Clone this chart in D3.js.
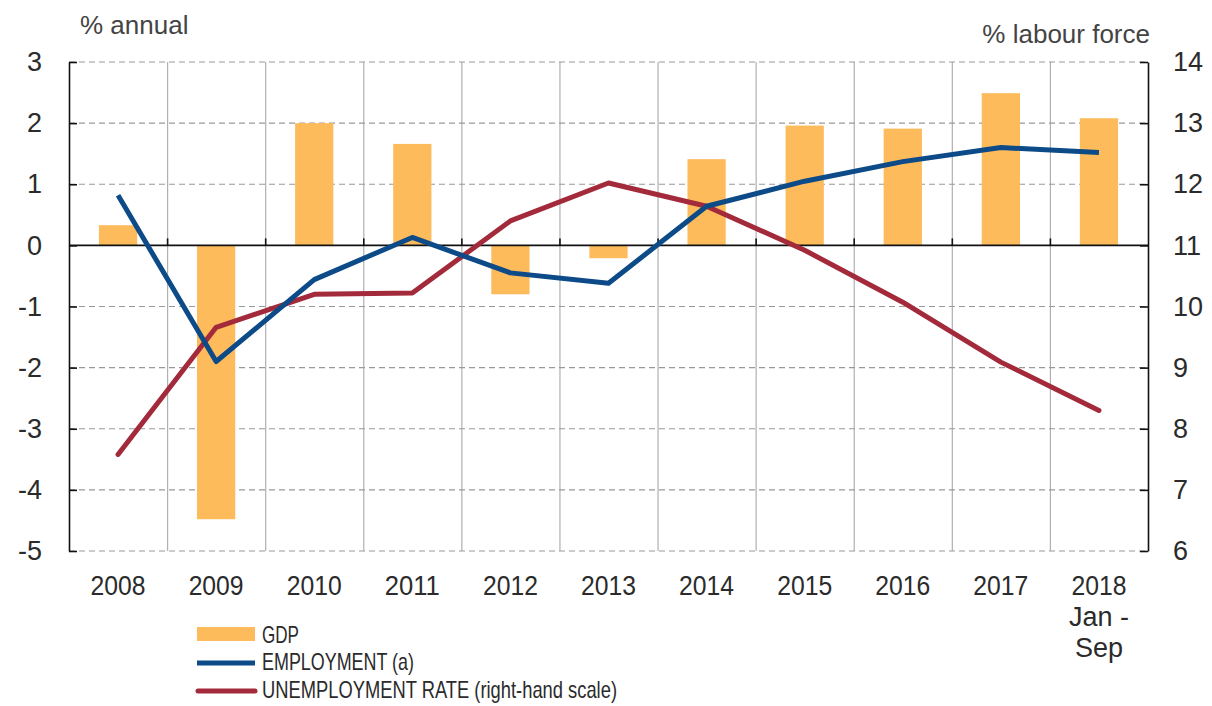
<!DOCTYPE html>
<html lang="en">
	<head>
		<meta charset="utf-8">
		<title>GDP, employment and unemployment</title>
		<script src="https://d3js.org/d3.v7.min.js"></script>
		<style>
			body { margin: 0; background: #fff; }
			svg { font-family: "Liberation Sans", Arial, sans-serif; }
		</style>
	</head>
	<body>
		<script type="text/javascript">

			// categories (last one has a multi-line label)
			const years = ["2008", "2009", "2010", "2011", "2012", "2013", "2014", "2015", "2016", "2017", "2018"];
			const yearLabels = [["2008"], ["2009"], ["2010"], ["2011"], ["2012"], ["2013"], ["2014"], ["2015"], ["2016"], ["2017"], ["2018", "Jan -", "Sep"]];

			// series, % annual (left)
			const gdp = [0.33, -4.48, 2.0, 1.66, -0.8, -0.21, 1.41, 1.96, 1.91, 2.49, 2.08];
			const employment = [0.82, -1.9, -0.56, 0.13, -0.45, -0.62, 0.64, 1.05, 1.37, 1.6, 1.52];
			// % labour force (right)
			const unemployment = [7.58, 9.66, 10.2, 10.22, 11.4, 12.02, 11.64, 10.92, 10.07, 9.09, 8.3];

			const leftTicks = [3, 2, 1, 0, -1, -2, -3, -4, -5];
			const rightTicks = [14, 13, 12, 11, 10, 9, 8, 7, 6];

			const legendItems = ["GDP", "EMPLOYMENT (a)", "UNEMPLOYMENT RATE (right-hand scale)"];

			drawChart();

			function drawChart(){
				const width = 1212;
				const height = 706;
				const marginTop = 62;
				const marginBottom = 155;
				const marginLeft = 69;
				const marginRight = 64;

				const cGdp = "#fdbb5c";
				const cEmp = "#0c4a88";
				const cUnemp = "#a32a3b";
				const cText = "#2b2b2b";

				const svg = d3.select("body").append("svg")
					.attr("width", width)
					.attr("height", height)
					.attr("viewBox", [0, 0, width, height]);

				const x = d3.scaleBand()
					.domain(years)
					.range([marginLeft, width - marginRight])
					.padding(0);

				const y = d3.scaleLinear()
					.domain([-5, 3])
					.range([height - marginBottom, marginTop]);

				const y2 = d3.scaleLinear()
					.domain([6, 14])
					.range([height - marginBottom, marginTop]);

				const cx = d => x(d) + x.bandwidth() / 2;

				// vertical grid lines at band boundaries
				svg.append("g")
					.selectAll("line")
					.data(years.slice(1))
					.join("line")
					.attr("x1", d => x(d) + 0.5)
					.attr("x2", d => x(d) + 0.5)
					.attr("y1", y(3))
					.attr("y2", y(-5))
					.attr("stroke", "#b0b0b0")
					.attr("stroke-width", 1.2);

				// horizontal dashed grid lines
				svg.append("g")
					.selectAll("line")
					.data(leftTicks.filter(d => d !== 0))
					.join("line")
					.attr("x1", marginLeft)
					.attr("x2", width - marginRight)
					.attr("y1", d => y(d))
					.attr("y2", d => y(d))
					.attr("stroke", "#999")
					.attr("stroke-width", 1.2)
					.attr("stroke-dasharray", "6,4");

				// GDP bars
				const barW = x.bandwidth() * 0.39;
				svg.append("g")
					.attr("fill", cGdp)
					.selectAll("rect")
					.data(years)
					.join("rect")
					.attr("x", d => cx(d) - barW / 2)
					.attr("width", barW)
					.attr("y", (d, i) => y(Math.max(0, gdp[i])))
					.attr("height", (d, i) => Math.abs(y(gdp[i]) - y(0)));

				// zero axis with upward ticks at band boundaries
				const zero = svg.append("g").attr("stroke", "#111");
				zero.append("line")
					.attr("x1", marginLeft)
					.attr("x2", width - marginRight)
					.attr("y1", y(0))
					.attr("y2", y(0))
					.attr("stroke-width", 1.6);
				zero.selectAll("line.tk")
					.data(years.slice(1))
					.join("line")
					.attr("class", "tk")
					.attr("x1", d => x(d) + 0.5)
					.attr("x2", d => x(d) + 0.5)
					.attr("y1", y(0))
					.attr("y2", y(0) - 7)
					.attr("stroke-width", 1.6);

				// lines
				const line = d3.line().x(d => d[0]).y(d => d[1]);

				svg.append("path")
					.datum(years.map((d, i) => [cx(d), y2(unemployment[i])]))
					.attr("fill", "none")
					.attr("stroke", cUnemp)
					.attr("stroke-width", 5)
					.attr("stroke-linejoin", "round")
					.attr("stroke-linecap", "round")
					.attr("d", line);

				svg.append("path")
					.datum(years.map((d, i) => [cx(d), y(employment[i])]))
					.attr("fill", "none")
					.attr("stroke", cEmp)
					.attr("stroke-width", 5)
					.attr("stroke-linejoin", "round")
					.attr("d", line);

				// left axis
				svg.append("g")
					.attr("transform", `translate(${marginLeft},0)`)
					.call(d3.axisRight(y).tickValues(leftTicks).tickSize(8).tickSizeOuter(0).tickFormat(d => String(d)))
					.call(g => g.select(".domain").attr("stroke", "#111").attr("stroke-width", 1.6))
					.call(g => g.selectAll(".tick line").attr("stroke", "#111").attr("stroke-width", 1.6))
					.call(g => g.selectAll(".tick text")
						.attr("x", -27)
						.attr("text-anchor", "end")
						.attr("fill", cText)
						.style("font-size", "27px")
						.style("font-family", "'Liberation Sans', Arial, sans-serif"));

				// right axis
				svg.append("g")
					.attr("transform", `translate(${width - marginRight},0)`)
					.call(d3.axisLeft(y2).tickValues(rightTicks).tickSize(8).tickSizeOuter(0).tickFormat(d => String(d)))
					.call(g => g.select(".domain").attr("stroke", "#111").attr("stroke-width", 1.6))
					.call(g => g.selectAll(".tick line").attr("stroke", "#111").attr("stroke-width", 1.6))
					.call(g => g.selectAll(".tick text")
						.attr("x", 25)
						.attr("text-anchor", "start")
						.attr("fill", cText)
						.style("font-size", "27px")
						.style("font-family", "'Liberation Sans', Arial, sans-serif"));

				// category labels
				svg.append("g")
					.attr("fill", cText)
					.style("font-size", "27px")
					.attr("text-anchor", "middle")
					.selectAll("text")
					.data(years)
					.join("text")
					.attr("x", cx)
					.attr("y", 595)
					.selectAll("tspan")
					.data((d, i) => yearLabels[i])
					.join("tspan")
					.attr("x", function() { return this.parentNode.getAttribute("x"); })
					.attr("dy", (d, j) => j === 0 ? 0 : 31)
					.attr("textLength", d => d.length === 4 ? 55 : null)
					.attr("lengthAdjust", "spacingAndGlyphs")
					.text(d => d);

				// axis titles
				svg.append("text")
					.attr("x", 80)
					.attr("y", 34)
					.attr("fill", "#444")
					.style("font-size", "26px")
					.text("% annual");

				svg.append("text")
					.attr("x", 1150)
					.attr("y", 43)
					.attr("text-anchor", "end")
					.attr("fill", "#444")
					.style("font-size", "26px")
					.text("% labour force");

				// legend
				const legend = svg.append("g");
				legend.append("rect")
					.attr("x", 197).attr("y", 627)
					.attr("width", 58).attr("height", 14)
					.attr("fill", cGdp);
				legend.append("line")
					.attr("x1", 197).attr("x2", 255)
					.attr("y1", 663).attr("y2", 663)
					.attr("stroke", cEmp).attr("stroke-width", 5);
				legend.append("line")
					.attr("x1", 198).attr("x2", 255)
					.attr("y1", 691).attr("y2", 691)
					.attr("stroke", cUnemp).attr("stroke-width", 5)
					.attr("stroke-linecap", "round");

				const legendW = [37, 152, 355];
				const legendY = [643, 670, 698];
				legend.selectAll("text")
					.data(legendItems)
					.join("text")
					.attr("x", 262)
					.attr("y", (d, i) => legendY[i])
					.attr("fill", cText)
					.attr("textLength", (d, i) => legendW[i])
					.attr("lengthAdjust", "spacingAndGlyphs")
					.style("font-size", "24px")
					.text(d => d);
			}

		</script>
	</body>
</html>
